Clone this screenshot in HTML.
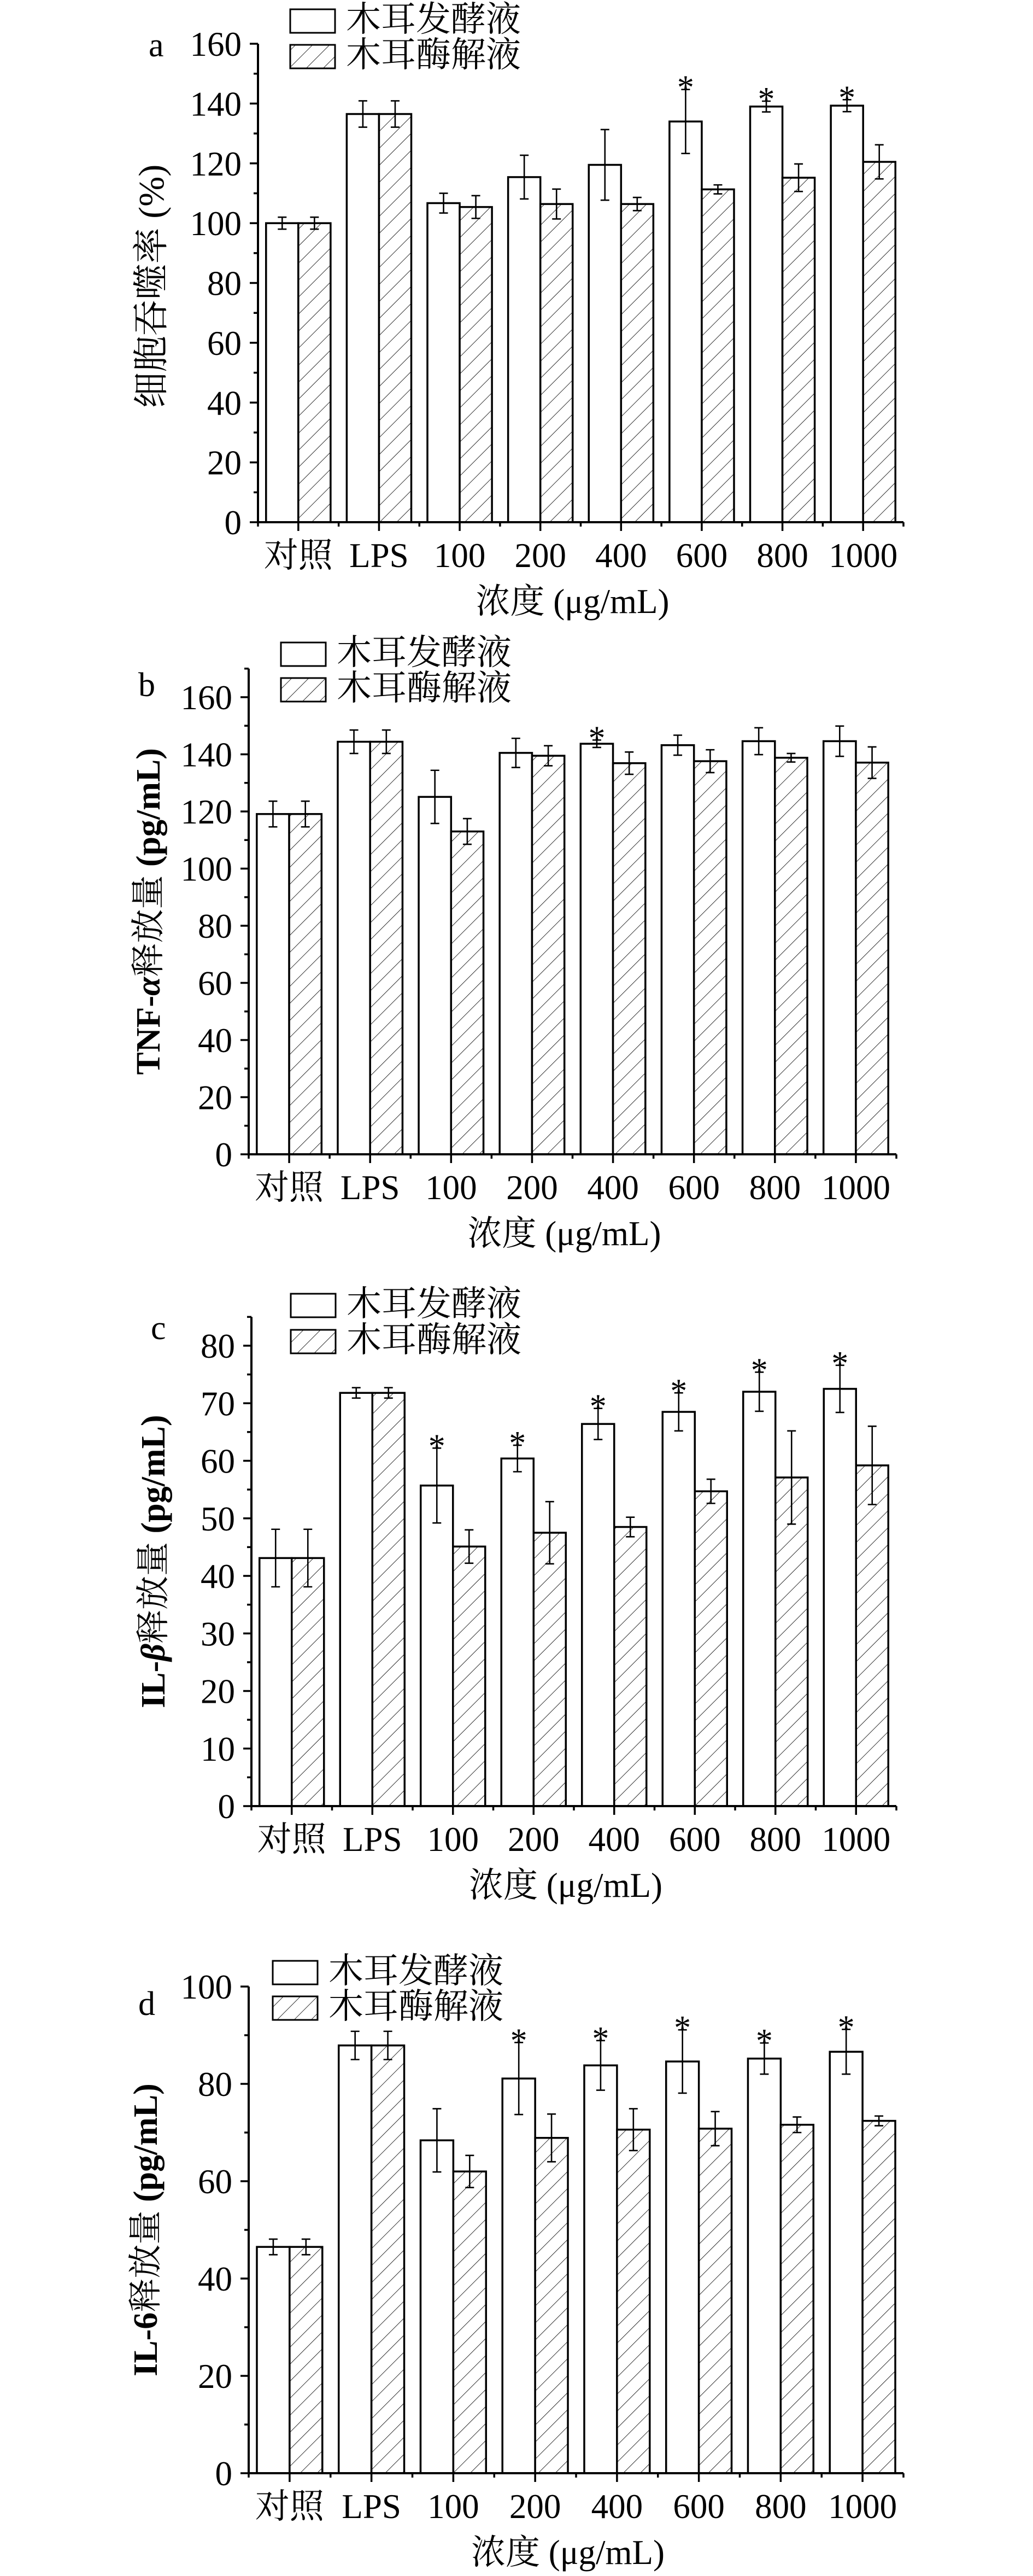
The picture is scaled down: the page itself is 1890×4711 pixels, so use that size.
<!DOCTYPE html>
<html><head><meta charset="utf-8">
<style>
html,body{margin:0;padding:0;background:#fff;}
svg{display:block;}
text{font-family:"Liberation Serif","Noto Serif CJK SC","Noto Sans CJK SC",serif;fill:#000;}
</style></head>
<body>
<svg id="fig" width="1890" height="4711" viewBox="0 0 1890 4711" xmlns="http://www.w3.org/2000/svg">
<defs>
<pattern id="hatch" patternUnits="userSpaceOnUse" width="22" height="22" patternTransform="rotate(45)">
<rect width="22" height="22" fill="#fff"/>
<line x1="0" y1="0" x2="0" y2="22" stroke="#000" stroke-width="1.6"/>
</pattern>
</defs>
</svg>
<script>
const categories = ["对照","LPS","100","200","400","600","800","1000"];
const seriesNames = ["木耳发酵液","木耳酶解液"];

const aFerment = [100,136.5,106.7,115.4,119.5,134,139,139.3];
const aFermentErr = [2,4.4,3.3,7.3,11.8,10.7,1.8,2];
const aEnzyme = [100,136.5,105.4,106.4,106.4,111.3,115.2,120.5];
const aEnzymeErr = [2,4.4,3.8,5,2.2,1.5,4.6,5.7];
const aStars = [0,0,0,0,0,1,1,1];
const aTicks = [0,20,40,60,80,100,120,140,160];

const bFerment = [119.1,144.4,125.1,140.5,143.7,143.2,144.6,144.6];
const bFermentErr = [4.5,4.1,9.3,5.1,1.3,3.5,4.7,5.3];
const bEnzyme = [119.1,144.4,113,139.5,136.9,137.6,138.8,137.1];
const bEnzymeErr = [4.5,4.1,4.5,3.5,3.9,4,1.5,5.5];
const bStars = [0,0,0,0,1,0,0,0];
const bTicks = [0,20,40,60,80,100,120,140,160];

const cFerment = [43.1,71.8,55.7,60.4,66.4,68.5,72,72.5];
const cFermentErr = [5,0.9,6.5,2.3,2.7,3.3,3.4,4.1];
const cEnzyme = [43.1,71.8,45.1,47.5,48.5,54.7,57.1,59.2];
const cEnzymeErr = [5,0.9,2.9,5.4,1.7,2.1,8.1,6.8];
const cStars = [0,0,1,1,1,1,1,1];
const cTicks = [0,10,20,30,40,50,60,70,80];

const dFerment = [46.5,87.9,68.4,81.1,83.8,84.6,85.2,86.6];
const dFermentErr = [1.6,2.9,6.5,7.4,5.1,6.5,3.2,4.6];
const dEnzyme = [46.5,87.9,62,68.9,70.6,70.8,71.6,72.4];
const dEnzymeErr = [1.6,2.9,3.3,4.9,4.3,3.5,1.6,1];
const dStars = [0,0,0,1,1,1,1,1];
const dTicks = [0,20,40,60,80,100];

const NS = "http://www.w3.org/2000/svg";
const svg = document.getElementById("fig");
function mk(tag, attrs, parent){
  const e = document.createElementNS(NS, tag);
  for (const k in attrs) e.setAttribute(k, attrs[k]);
  (parent||svg).appendChild(e);
  return e;
}

const panels = [
  {id:"a", ferment:aFerment, fErr:aFermentErr, enzyme:aEnzyme, eErr:aEnzymeErr, stars:aStars, ticks:aTicks,
   ax:472, xEnd:1653, y0:955, yRef:80, vRef:160, vTop:160, minor:10,
   legX:531, legY:[17,82], letter:[272,103], ytx:277, ytfs:66,
   ytitle:[["细胞吞噬率 ",""],["(%)",""]]},
  {id:"b", ferment:bFerment, fErr:bFermentErr, enzyme:bEnzyme, eErr:bEnzymeErr, stars:bStars, ticks:bTicks,
   ax:455, xEnd:1640, y0:2111, yRef:1275, vRef:160, vTop:170, minor:10,
   legX:514, legY:[1175,1240], letter:[253,1273], ytx:272, ytfs:62,
   ytitle:[["TNF-","b"],["α","bi"],["释放量 ",""],["(pg/mL)","b"]]},
  {id:"c", ferment:cFerment, fErr:cFermentErr, enzyme:cEnzyme, eErr:cEnzymeErr, stars:cStars, ticks:cTicks,
   ax:460, xEnd:1640, y0:3303, yRef:2461, vRef:80, vTop:85, minor:5,
   legX:532, legY:[2366,2432], letter:[276,2449], ytx:281, ytfs:62,
   ytitle:[["IL-","b"],["β","bi"],["释放量 ",""],["(pg/mL)","b"]]},
  {id:"d", ferment:dFerment, fErr:dFermentErr, enzyme:dEnzyme, eErr:dEnzymeErr, stars:dStars, ticks:dTicks,
   ax:455, xEnd:1653, y0:4523, yRef:3633, vRef:100, vTop:100, minor:10,
   legX:499, legY:[3586,3651], letter:[253,3685], ytx:267, ytfs:62,
   ytitle:[["IL-6","b"],["释放量 ",""],["(pg/mL)","b"]]}
];

panels.forEach(p => {
  const g = mk("g", {});
  
  
  const scale = (p.y0 - p.yRef) / p.vRef;
  const yS = v => p.y0 - v * scale;
  const n = categories.length;
  const step = (p.xEnd - p.ax) / n;
  const xC = i => p.ax + step * (i + 0.5);
  const bw = step * 0.4;

  for (let i = 0; i < n; i++) {
    const series = [[p.ferment, p.fErr, "#fff", "ferment"], [p.enzyme, p.eErr, "url(#hatch)", "enzyme"]];
    series.forEach((s, k) => {
      const v = s[0][i], e = s[1][i];
      const x = k === 0 ? xC(i) - bw : xC(i);
      const r = mk("rect", {x:x, y:yS(v), width:bw, height:p.y0 - yS(v), fill:s[2], stroke:"#000", "stroke-width":3.5}, g);
      
      
      const cx = x + bw / 2;
      const eb = mk("path", {d:`M${cx},${yS(v+e)}V${yS(v-e)}M${cx-8},${yS(v+e)}H${cx+8}M${cx-8},${yS(v-e)}H${cx+8}`, stroke:"#000", "stroke-width":2.6, fill:"none"}, g);
      
      
    });
    if (p.stars[i]) {
      const cx = xC(i) - bw / 2;
      const st = mk("text", {x:cx, y:yS(p.ferment[i] + p.fErr[i]) + 17, "text-anchor":"middle", "font-size":62}, g);
      st.textContent = "*";
      
      
    }
  }

  const yTopPx = yS(p.vTop);
  const axes = mk("path", {d:`M${p.ax},${yTopPx}V${p.y0}H${p.xEnd}`, stroke:"#000", "stroke-width":4, fill:"none"}, g);
  
  
  let d = "";
  for (let v = 0; v <= p.vTop + 0.001; v += p.minor) {
    const major = p.ticks.indexOf(v) >= 0;
    d += `M${p.ax - (major ? 15 : 8)},${yS(v)}H${p.ax}`;
  }
  for (let i = 0; i <= n; i++) d += `M${p.ax + step * i},${p.y0}v8`;
  for (let i = 0; i < n; i++) d += `M${xC(i)},${p.y0}v16`;
  const tk = mk("path", {d:d, stroke:"#000", "stroke-width":3.5, fill:"none"}, g);
  
  

  p.ticks.forEach(v => {
    const t = mk("text", {x:p.ax - 30, y:yS(v) + 22, "text-anchor":"end", "font-size":63}, g);
    t.textContent = v;
    
    
  });
  categories.forEach((c, i) => {
    const t = mk("text", {x:xC(i), y:p.y0 + 82, "text-anchor":"middle", "font-size":63}, g);
    t.textContent = c;
    
    
  });
  const xt = mk("text", {x:(p.ax + p.xEnd) / 2 - 15, y:p.y0 + 166, "text-anchor":"middle", "font-size":63}, g);
  xt.textContent = "浓度 (μg/mL)";
  
  

  const yc = (yTopPx + p.y0) / 2 + (p.id === "a" ? 6 : 0);
  const yt = mk("text", {x:0, y:0, "text-anchor":"middle", "dominant-baseline":"central", "font-size":p.ytfs,
    transform:`translate(${p.ytx},${yc}) rotate(-90)`}, g);
  
  
  p.ytitle.forEach(part => {
    const ts = mk("tspan", {}, yt);
    if (part[1].indexOf("b") >= 0) ts.setAttribute("font-weight", "bold");
    if (part[1].indexOf("i") >= 0) ts.setAttribute("font-style", "italic");
    ts.textContent = part[0];
  });

  const lt = mk("text", {x:p.letter[0], y:p.letter[1], "font-size":62}, g);
  lt.textContent = p.id;
  
  

  seriesNames.forEach((nm, k) => {
    const lg = mk("g", {}, g);
    
    
    mk("rect", {x:p.legX, y:p.legY[k], width:82, height:43, fill:k ? "url(#hatch)" : "#fff", stroke:"#000", "stroke-width":3}, lg);
    const t = mk("text", {x:p.legX + 102, y:p.legY[k] + 40, "font-size":64}, lg);
    t.textContent = nm;
  });
});
</script>
</body></html>
